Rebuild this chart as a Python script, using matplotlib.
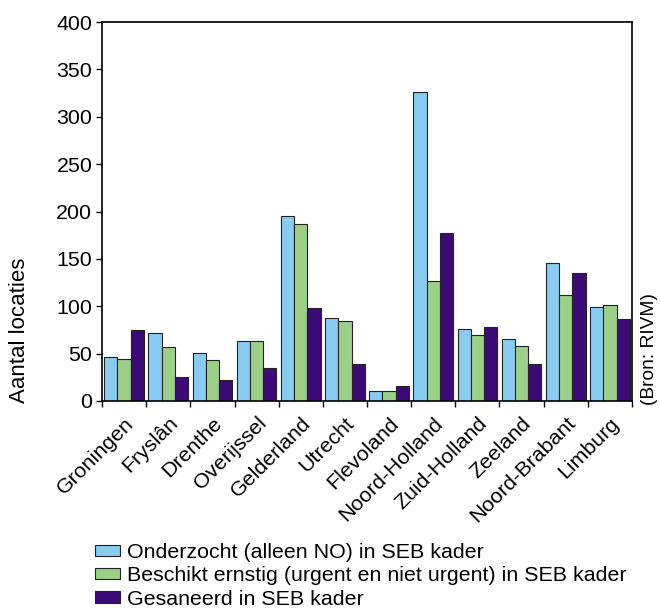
import matplotlib
matplotlib.use("Agg")
import matplotlib.pyplot as plt
import numpy as np

categories = ["Groningen", "Fryslân", "Drenthe", "Overijssel", "Gelderland", "Utrecht",
              "Flevoland", "Noord-Holland", "Zuid-Holland", "Zeeland", "Noord-Brabant", "Limburg"]
onderzocht = [46, 72, 51, 63, 195, 88, 11, 326, 76, 65, 146, 99]
beschikt = [44, 57, 43, 63, 187, 84, 11, 127, 70, 58, 112, 101]
gesaneerd = [75, 25, 22, 35, 98, 39, 16, 177, 78, 39, 135, 87]
series_labels = ["Onderzocht (alleen NO) in SEB kader",
                 "Beschikt ernstig (urgent en niet urgent) in SEB kader",
                 "Gesaneerd in SEB kader"]
yticks = [0, 50, 100, 150, 200, 250, 300, 350, 400]

plt.rcParams['font.family'] = ['Liberation Sans', 'DejaVu Sans']
colors = ["#88CCF2", "#9CD088", "#3D0B78"]
FS = 15.4

fig = plt.figure(figsize=(6.6, 6.09), dpi=100)
ax = fig.add_axes([102/660, 1 - 401/609, (632-102)/660, (401-22)/609])

x = np.arange(len(categories))
w = 0.3
handles = []
for i, (vals, c, lab) in enumerate(zip([onderzocht, beschikt, gesaneerd], colors, series_labels)):
    b = ax.bar(x + (i - 1) * w, vals, width=w, color=c, edgecolor="#222222", linewidth=0.8, label=lab)
    handles.append(b)

ax.set_xlim(-0.5, len(categories) - 0.5)
ax.set_ylim(0, 400)
ax.set_yticks(yticks)
ax.set_yticklabels([str(v) for v in yticks], fontsize=FS)
ax.set_xticks(x)
ax.set_xticklabels(categories, rotation=45, ha='right', va='top', rotation_mode='anchor', fontsize=FS)
ax.tick_params(axis='x', which='major', length=0, pad=9)
ax.set_xticks(np.arange(-0.5, len(categories), 1.0), minor=True)
ax.tick_params(axis='x', which='minor', length=4, width=1, direction='out')
ax.tick_params(axis='y', length=4, width=1, direction='out', pad=3)
for s in ax.spines.values():
    s.set_linewidth(1.2)
    s.set_color('black')

fig.text(20/660, 1 - 330/609, "Aantal locaties", rotation=90, ha='center', va='center', fontsize=16)
fig.text(650/660, 1 - 405/609, "(Bron: RIVM)", rotation=90, ha='center', va='bottom', fontsize=13.8)

fig.legend(handles=handles, labels=series_labels, loc='upper left',
           bbox_to_anchor=(95/660, 1 - 543/609), frameon=False, fontsize=FS,
           handlelength=1.17, handleheight=0.45, handletextpad=0.33, labelspacing=0.2,
           borderaxespad=0, borderpad=0)

fig.savefig("out.png", dpi=100)
